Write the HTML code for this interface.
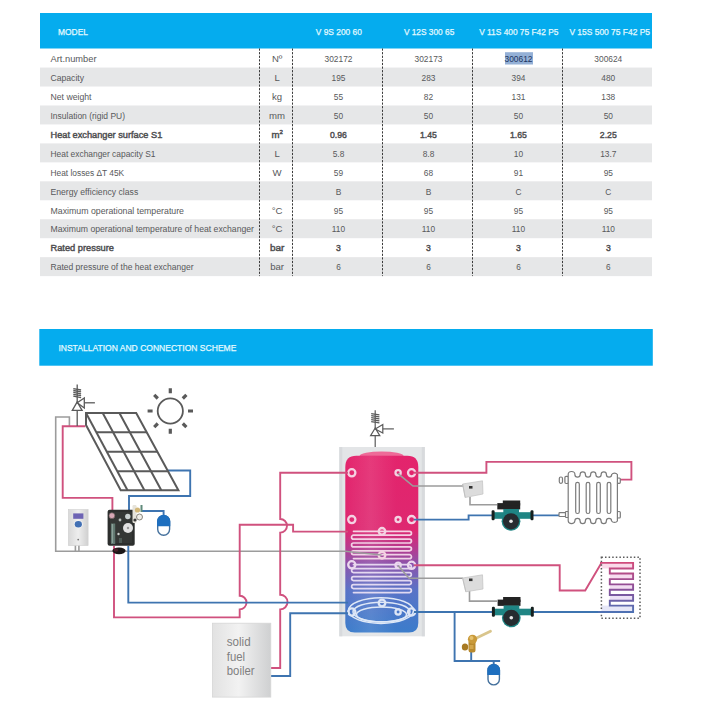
<!DOCTYPE html>
<html><head><meta charset="utf-8"><style>
html,body{margin:0;padding:0;background:#fff;width:707px;height:708px;overflow:hidden}
svg{position:absolute;left:0;top:0;font-family:"Liberation Sans",sans-serif}
</style></head><body>
<svg width="707" height="708" viewBox="0 0 707 708">
<rect x="40" y="13" width="612" height="35.5" fill="#05ACEE"/>
<text x="58" y="35" fill="#E4FAFF" stroke="#E4FAFF" stroke-width="0.25" font-size="9.5" textLength="30" lengthAdjust="spacingAndGlyphs">MODEL</text>
<text x="315.8" y="35" fill="#E4FAFF" stroke="#E4FAFF" stroke-width="0.25" font-size="9.5" textLength="46" lengthAdjust="spacingAndGlyphs">V 9S 200 60</text>
<text x="403.9" y="35" fill="#E4FAFF" stroke="#E4FAFF" stroke-width="0.25" font-size="9.5" textLength="50.4" lengthAdjust="spacingAndGlyphs">V 12S 300 65</text>
<text x="479.2" y="35" fill="#E4FAFF" stroke="#E4FAFF" stroke-width="0.25" font-size="9.5" textLength="79.2" lengthAdjust="spacingAndGlyphs">V 11S 400 75 F42 P5</text>
<text x="569.4" y="35" fill="#E4FAFF" stroke="#E4FAFF" stroke-width="0.25" font-size="9.5" textLength="80.6" lengthAdjust="spacingAndGlyphs">V 15S 500 75 F42 P5</text>
<rect x="40" y="67.56" width="612" height="18.96" fill="#E6E7E8"/>
<rect x="40" y="105.48" width="612" height="18.96" fill="#E6E7E8"/>
<rect x="40" y="143.40" width="612" height="18.96" fill="#E6E7E8"/>
<rect x="40" y="181.32" width="612" height="18.96" fill="#E6E7E8"/>
<rect x="40" y="219.24" width="612" height="18.96" fill="#E6E7E8"/>
<rect x="40" y="257.16" width="612" height="18.96" fill="#E6E7E8"/>
<text x="50.5" y="61.8" fill="#58595b" font-size="9.6" textLength="46" lengthAdjust="spacingAndGlyphs">Art.number</text>
<text x="277.1" y="61.8" fill="#58595b" font-size="9.6" text-anchor="middle" textLength="10.4" lengthAdjust="spacingAndGlyphs">Nº</text>
<text x="338.5" y="61.8" fill="#58595b" font-size="9.6" text-anchor="middle" textLength="27.9" lengthAdjust="spacingAndGlyphs">302172</text>
<text x="428.5" y="61.8" fill="#58595b" font-size="9.6" text-anchor="middle" textLength="27.9" lengthAdjust="spacingAndGlyphs">302173</text>
<rect x="505" y="52.2" width="28" height="12.3" fill="#94B0D6"/>
<text x="518.5" y="61.8" fill="#1d3560" font-size="9.6" text-anchor="middle" textLength="27.9" lengthAdjust="spacingAndGlyphs">300612</text>
<text x="608.3" y="61.8" fill="#58595b" font-size="9.6" text-anchor="middle" textLength="27.9" lengthAdjust="spacingAndGlyphs">300624</text>
<text x="50.5" y="80.8" fill="#58595b" font-size="9.6" textLength="33.5" lengthAdjust="spacingAndGlyphs">Capacity</text>
<text x="277.1" y="80.8" fill="#58595b" font-size="9.6" text-anchor="middle" textLength="5.3" lengthAdjust="spacingAndGlyphs">L</text>
<text x="338.5" y="80.8" fill="#58595b" font-size="9.6" text-anchor="middle" textLength="13.9" lengthAdjust="spacingAndGlyphs">195</text>
<text x="428.5" y="80.8" fill="#58595b" font-size="9.6" text-anchor="middle" textLength="13.9" lengthAdjust="spacingAndGlyphs">283</text>
<text x="518.5" y="80.8" fill="#58595b" font-size="9.6" text-anchor="middle" textLength="13.9" lengthAdjust="spacingAndGlyphs">394</text>
<text x="608.3" y="80.8" fill="#58595b" font-size="9.6" text-anchor="middle" textLength="13.9" lengthAdjust="spacingAndGlyphs">480</text>
<text x="50.5" y="99.7" fill="#58595b" font-size="9.6" textLength="41" lengthAdjust="spacingAndGlyphs">Net weight</text>
<text x="277.1" y="99.7" fill="#58595b" font-size="9.6" text-anchor="middle" textLength="10.1" lengthAdjust="spacingAndGlyphs">kg</text>
<text x="338.5" y="99.7" fill="#58595b" font-size="9.6" text-anchor="middle" textLength="9.3" lengthAdjust="spacingAndGlyphs">55</text>
<text x="428.5" y="99.7" fill="#58595b" font-size="9.6" text-anchor="middle" textLength="9.3" lengthAdjust="spacingAndGlyphs">82</text>
<text x="518.5" y="99.7" fill="#58595b" font-size="9.6" text-anchor="middle" textLength="13.9" lengthAdjust="spacingAndGlyphs">131</text>
<text x="608.3" y="99.7" fill="#58595b" font-size="9.6" text-anchor="middle" textLength="13.9" lengthAdjust="spacingAndGlyphs">138</text>
<text x="50.5" y="118.7" fill="#58595b" font-size="9.6" textLength="74.5" lengthAdjust="spacingAndGlyphs">Insulation (rigid PU)</text>
<text x="277.1" y="118.7" fill="#58595b" font-size="9.6" text-anchor="middle" textLength="16.0" lengthAdjust="spacingAndGlyphs">mm</text>
<text x="338.5" y="118.7" fill="#58595b" font-size="9.6" text-anchor="middle" textLength="9.3" lengthAdjust="spacingAndGlyphs">50</text>
<text x="428.5" y="118.7" fill="#58595b" font-size="9.6" text-anchor="middle" textLength="9.3" lengthAdjust="spacingAndGlyphs">50</text>
<text x="518.5" y="118.7" fill="#58595b" font-size="9.6" text-anchor="middle" textLength="9.3" lengthAdjust="spacingAndGlyphs">50</text>
<text x="608.3" y="118.7" fill="#58595b" font-size="9.6" text-anchor="middle" textLength="9.3" lengthAdjust="spacingAndGlyphs">50</text>
<text x="50.5" y="137.6" fill="#4c4c4e" font-size="9.6" stroke="#505052" stroke-width="0.45" textLength="111.8" lengthAdjust="spacingAndGlyphs">Heat exchanger surface S1</text>
<text x="277.1" y="137.6" fill="#4c4c4e" font-size="9.6" stroke="#505052" stroke-width="0.45" text-anchor="middle">m<tspan font-size="6" dy="-3.5">2</tspan></text>
<text x="338.5" y="137.6" fill="#4c4c4e" font-size="9.6" stroke="#505052" stroke-width="0.45" text-anchor="middle" textLength="16.9" lengthAdjust="spacingAndGlyphs">0.96</text>
<text x="428.5" y="137.6" fill="#4c4c4e" font-size="9.6" stroke="#505052" stroke-width="0.45" text-anchor="middle" textLength="16.9" lengthAdjust="spacingAndGlyphs">1.45</text>
<text x="518.5" y="137.6" fill="#4c4c4e" font-size="9.6" stroke="#505052" stroke-width="0.45" text-anchor="middle" textLength="16.9" lengthAdjust="spacingAndGlyphs">1.65</text>
<text x="608.3" y="137.6" fill="#4c4c4e" font-size="9.6" stroke="#505052" stroke-width="0.45" text-anchor="middle" textLength="16.9" lengthAdjust="spacingAndGlyphs">2.25</text>
<text x="50.5" y="156.6" fill="#58595b" font-size="9.6" textLength="105" lengthAdjust="spacingAndGlyphs">Heat exchanger capacity S1</text>
<text x="277.1" y="156.6" fill="#58595b" font-size="9.6" text-anchor="middle" textLength="5.3" lengthAdjust="spacingAndGlyphs">L</text>
<text x="338.5" y="156.6" fill="#58595b" font-size="9.6" text-anchor="middle" textLength="11.6" lengthAdjust="spacingAndGlyphs">5.8</text>
<text x="428.5" y="156.6" fill="#58595b" font-size="9.6" text-anchor="middle" textLength="11.6" lengthAdjust="spacingAndGlyphs">8.8</text>
<text x="518.5" y="156.6" fill="#58595b" font-size="9.6" text-anchor="middle" textLength="9.3" lengthAdjust="spacingAndGlyphs">10</text>
<text x="608.3" y="156.6" fill="#58595b" font-size="9.6" text-anchor="middle" textLength="16.3" lengthAdjust="spacingAndGlyphs">13.7</text>
<text x="50.5" y="175.6" fill="#58595b" font-size="9.6" textLength="73.7" lengthAdjust="spacingAndGlyphs">Heat losses ΔT 45K</text>
<text x="277.1" y="175.6" fill="#58595b" font-size="9.6" text-anchor="middle" textLength="9.1" lengthAdjust="spacingAndGlyphs">W</text>
<text x="338.5" y="175.6" fill="#58595b" font-size="9.6" text-anchor="middle" textLength="9.3" lengthAdjust="spacingAndGlyphs">59</text>
<text x="428.5" y="175.6" fill="#58595b" font-size="9.6" text-anchor="middle" textLength="9.3" lengthAdjust="spacingAndGlyphs">68</text>
<text x="518.5" y="175.6" fill="#58595b" font-size="9.6" text-anchor="middle" textLength="9.3" lengthAdjust="spacingAndGlyphs">91</text>
<text x="608.3" y="175.6" fill="#58595b" font-size="9.6" text-anchor="middle" textLength="9.3" lengthAdjust="spacingAndGlyphs">95</text>
<text x="50.5" y="194.5" fill="#58595b" font-size="9.6" textLength="87.7" lengthAdjust="spacingAndGlyphs">Energy efficiency class</text>
<text x="338.5" y="194.5" fill="#58595b" font-size="9.6" text-anchor="middle" textLength="5.6" lengthAdjust="spacingAndGlyphs">B</text>
<text x="428.5" y="194.5" fill="#58595b" font-size="9.6" text-anchor="middle" textLength="5.6" lengthAdjust="spacingAndGlyphs">B</text>
<text x="518.5" y="194.5" fill="#58595b" font-size="9.6" text-anchor="middle" textLength="6.0" lengthAdjust="spacingAndGlyphs">C</text>
<text x="608.3" y="194.5" fill="#58595b" font-size="9.6" text-anchor="middle" textLength="6.0" lengthAdjust="spacingAndGlyphs">C</text>
<text x="50.5" y="213.5" fill="#58595b" font-size="9.6" textLength="133.5" lengthAdjust="spacingAndGlyphs">Maximum operational temperature</text>
<text x="277.1" y="213.5" fill="#58595b" font-size="9.6" text-anchor="middle" textLength="10.8" lengthAdjust="spacingAndGlyphs">°C</text>
<text x="338.5" y="213.5" fill="#58595b" font-size="9.6" text-anchor="middle" textLength="9.3" lengthAdjust="spacingAndGlyphs">95</text>
<text x="428.5" y="213.5" fill="#58595b" font-size="9.6" text-anchor="middle" textLength="9.3" lengthAdjust="spacingAndGlyphs">95</text>
<text x="518.5" y="213.5" fill="#58595b" font-size="9.6" text-anchor="middle" textLength="9.3" lengthAdjust="spacingAndGlyphs">95</text>
<text x="608.3" y="213.5" fill="#58595b" font-size="9.6" text-anchor="middle" textLength="9.3" lengthAdjust="spacingAndGlyphs">95</text>
<text x="50.5" y="232.4" fill="#58595b" font-size="9.6" textLength="203.5" lengthAdjust="spacingAndGlyphs">Maximum operational temperature of heat exchanger</text>
<text x="277.1" y="232.4" fill="#58595b" font-size="9.6" text-anchor="middle" textLength="10.8" lengthAdjust="spacingAndGlyphs">°C</text>
<text x="338.5" y="232.4" fill="#58595b" font-size="9.6" text-anchor="middle" textLength="13.3" lengthAdjust="spacingAndGlyphs">110</text>
<text x="428.5" y="232.4" fill="#58595b" font-size="9.6" text-anchor="middle" textLength="13.3" lengthAdjust="spacingAndGlyphs">110</text>
<text x="518.5" y="232.4" fill="#58595b" font-size="9.6" text-anchor="middle" textLength="13.3" lengthAdjust="spacingAndGlyphs">110</text>
<text x="608.3" y="232.4" fill="#58595b" font-size="9.6" text-anchor="middle" textLength="13.3" lengthAdjust="spacingAndGlyphs">110</text>
<text x="50.5" y="251.4" fill="#4c4c4e" font-size="9.6" stroke="#505052" stroke-width="0.45" textLength="63.5" lengthAdjust="spacingAndGlyphs">Rated pressure</text>
<text x="277.1" y="251.4" fill="#4c4c4e" font-size="9.6" stroke="#505052" stroke-width="0.45" text-anchor="middle" textLength="14.4" lengthAdjust="spacingAndGlyphs">bar</text>
<text x="338.5" y="251.4" fill="#4c4c4e" font-size="9.6" stroke="#505052" stroke-width="0.45" text-anchor="middle" textLength="4.8" lengthAdjust="spacingAndGlyphs">3</text>
<text x="428.5" y="251.4" fill="#4c4c4e" font-size="9.6" stroke="#505052" stroke-width="0.45" text-anchor="middle" textLength="4.8" lengthAdjust="spacingAndGlyphs">3</text>
<text x="518.5" y="251.4" fill="#4c4c4e" font-size="9.6" stroke="#505052" stroke-width="0.45" text-anchor="middle" textLength="4.8" lengthAdjust="spacingAndGlyphs">3</text>
<text x="608.3" y="251.4" fill="#4c4c4e" font-size="9.6" stroke="#505052" stroke-width="0.45" text-anchor="middle" textLength="4.8" lengthAdjust="spacingAndGlyphs">3</text>
<text x="50.5" y="270.4" fill="#58595b" font-size="9.6" textLength="143" lengthAdjust="spacingAndGlyphs">Rated pressure of the heat exchanger</text>
<text x="277.1" y="270.4" fill="#58595b" font-size="9.6" text-anchor="middle" textLength="13.9" lengthAdjust="spacingAndGlyphs">bar</text>
<text x="338.5" y="270.4" fill="#58595b" font-size="9.6" text-anchor="middle" textLength="4.6" lengthAdjust="spacingAndGlyphs">6</text>
<text x="428.5" y="270.4" fill="#58595b" font-size="9.6" text-anchor="middle" textLength="4.6" lengthAdjust="spacingAndGlyphs">6</text>
<text x="518.5" y="270.4" fill="#58595b" font-size="9.6" text-anchor="middle" textLength="4.6" lengthAdjust="spacingAndGlyphs">6</text>
<text x="608.3" y="270.4" fill="#58595b" font-size="9.6" text-anchor="middle" textLength="4.6" lengthAdjust="spacingAndGlyphs">6</text>
<line x1="259.5" y1="48.5" x2="259.5" y2="276.1" stroke="#3a3a3a" stroke-width="1" stroke-dasharray="2.2 1.4"/>
<line x1="292.5" y1="48.5" x2="292.5" y2="276.1" stroke="#3a3a3a" stroke-width="1" stroke-dasharray="2.2 1.4"/>
<line x1="382.5" y1="48.5" x2="382.5" y2="276.1" stroke="#3a3a3a" stroke-width="1" stroke-dasharray="2.2 1.4"/>
<line x1="472.5" y1="48.5" x2="472.5" y2="276.1" stroke="#3a3a3a" stroke-width="1" stroke-dasharray="2.2 1.4"/>
<line x1="562.5" y1="48.5" x2="562.5" y2="276.1" stroke="#3a3a3a" stroke-width="1" stroke-dasharray="2.2 1.4"/>
<rect x="39.3" y="329" width="613.5" height="36.7" fill="#05ACEE"/>
<text x="58.4" y="350.6" fill="#E4FAFF" stroke="#E4FAFF" stroke-width="0.25" font-size="9.8" textLength="178" lengthAdjust="spacingAndGlyphs">INSTALLATION AND CONNECTION SCHEME</text>

<!-- tank -->
<rect x="339.3" y="447" width="85.5" height="189.3" fill="#E3E5E7"/>
<rect x="339.3" y="447" width="3" height="189.3" fill="#D8DADD"/>
<rect x="421.8" y="447" width="3" height="189.3" fill="#D8DADD"/>
<ellipse cx="381.6" cy="456" rx="22" ry="4.5" fill="#EE6A98"/>
<path d="M345.3 467 Q345.3 455.8 356.3 455.8 H407.3 Q418.3 455.8 418.3 467 V623 Q418.3 632.6 408.8 632.6 H354.8 Q345.3 632.6 345.3 623 Z" fill="url(#tg)"/>
<rect x="345.3" y="456" width="73" height="179" fill="url(#sheen)"/>
<g fill="none" stroke-linecap="round">
  <path d="M353.5 531.3 H409.5 A1.95 1.95 0 0 1 409.5 535.20 H353.5 A1.95 1.95 0 0 0 353.5 539.10 H409.5 A1.95 1.95 0 0 1 409.5 543.00 H353.5 A1.95 1.95 0 0 0 353.5 546.90 H409.5 A1.95 1.95 0 0 1 409.5 550.80 H353.5 A1.95 1.95 0 0 0 353.5 554.70 H409.5 A1.95 1.95 0 0 1 409.5 558.60 H353.5" stroke="#F8E2EE" stroke-width="1.7" opacity="0.9"/>
  <path d="M353.5 564.6 H409.5 A2.00 2.00 0 0 1 409.5 568.59 H353.5 A2.00 2.00 0 0 0 353.5 572.58 H409.5 A2.00 2.00 0 0 1 409.5 576.57 H353.5 A2.00 2.00 0 0 0 353.5 580.56 H409.5 A2.00 2.00 0 0 1 409.5 584.55 H353.5 A2.00 2.00 0 0 0 353.5 588.54 H409.5 A2.00 2.00 0 0 1 409.5 592.53 H353.5" stroke="#EEE4F6" stroke-width="1.7" opacity="0.9"/>
  <g stroke="#E6EEFA" stroke-width="1.5" opacity="0.95">
    <ellipse cx="381" cy="610.6" rx="32.5" ry="12.8"/>
    <ellipse cx="381.5" cy="612" rx="28.5" ry="9.8"/>
    <ellipse cx="381.5" cy="614.5" rx="25" ry="7.5"/>
  </g>
</g>
<g fill="none" stroke="#F4D2E2" stroke-width="2.3">
  <circle cx="351.8" cy="472.8" r="3.6"/><circle cx="398.1" cy="472.8" r="2.6"/><circle cx="411.6" cy="472.8" r="3.6"/>
  <circle cx="351.8" cy="519.6" r="3.6"/><circle cx="398.1" cy="519.6" r="2.6"/><circle cx="411.6" cy="519.6" r="3.6"/>
  <circle cx="382" cy="531.3" r="3.3"/><circle cx="382" cy="555.2" r="3.3"/>
</g>
<g fill="none" stroke="#EBD8EE" stroke-width="2.3">
  <circle cx="351.8" cy="564.8" r="3.6"/><circle cx="398.1" cy="565.3" r="2.6"/><circle cx="411.6" cy="565.3" r="3.6"/>
</g>
<g fill="none" stroke="#DDE6F6" stroke-width="2.3">
  <circle cx="382" cy="603" r="3.3"/>
  <circle cx="351.8" cy="612" r="3.6"/><circle cx="398.1" cy="612" r="2.6"/><circle cx="411.6" cy="612" r="3.6"/>
</g>

<!-- gray sensor lines -->
<g fill="none" stroke="#9c9c9c" stroke-width="1.6">
  <path d="M69.4 426 V417 H55.7 V551.2 H345 L381.5 555"/>
  <path d="M75.4 545 V551.2 M78.9 545 V551.2"/>
  <path d="M397.8 473.3 L413 486 H463"/>
  <path d="M470 497 V504.7 H497"/>
  <path d="M398 565.4 L409 578.2 H463"/>
  <path d="M469.5 591 V601.1 H497"/>
</g>

<!-- red pipes -->
<g fill="none" stroke="#D0517E" stroke-width="1.9">
  <path d="M85.4 426.3 H62.7 V497.9 H112.4 V512"/>
  <path d="M114 546 V617.4 H239.7 V609.4 A6.8 6.8 0 0 0 239.7 595.8 V524.7 H293.1 V531.6 H348"/>
  <path d="M348 472.8 H280.2 V519 A6.8 6.8 0 0 1 280.2 532.6 V594.8 A6.8 6.8 0 0 1 280.2 609.4 V668 H271"/>
  <path d="M414 472.8 H486.4 V461.9 H631.4 V479.6 H620"/>
  <path d="M414 565.3 H559.7 V590.5 H585.2 L601.4 562.9"/>
</g>

<!-- blue pipes -->
<g fill="none" stroke="#3E74B0" stroke-width="1.9">
  <path d="M167 470.5 H190.2 V496 H129 V512"/>
  <path d="M142 511 H163.6 V516"/>
  <path d="M128.3 546 V602.6 H348"/>
  <path d="M271 676 H290.2 V613.3 H348"/>
  <path d="M414 519.6 H468.6 V515.4 H560"/>
  <path d="M414 612 H600"/>
  <path d="M454.6 612 V661 H500.1 M471.2 652 V661 M493.7 661.1 V665"/>
</g>

<!-- underfloor dotted box -->
<g opacity="0.8">
<rect x="601.4" y="562.9" width="31.7" height="5.6" fill="#FAD3E6"/>
<rect x="609.8" y="573.5" width="23.3" height="5.6" fill="#F6D4EC"/>
<rect x="609.8" y="584.4" width="23.3" height="5.3" fill="#F0D6F0"/>
<rect x="609.8" y="595" width="23.3" height="5.8" fill="#E8DAF4"/>
<rect x="601.4" y="605.6" width="31.7" height="6.4" fill="#E0E2F6"/>
</g>
<rect x="601.4" y="557.2" width="38.6" height="61.1" fill="none" stroke="#5a5a5a" stroke-width="1.5" stroke-dasharray="1.5 2.1"/>
<path d="M600 562.9 H633.1 V568.5 H609.8 V573.5 H633.1 V579.1 H609.8 V584.4 H633.1 V589.7 H609.8 V595 H633.1 V600.8 H609.8 V605.6 H633.1 V612 H598" fill="none" stroke="url(#ufh)" stroke-width="1.9"/>

<!-- solar panel -->
<g fill="none" stroke="#5a5a5a" stroke-width="2" stroke-linejoin="miter">
  <path d="M86 413 H136.2 L178.4 490.3 H120.7 L86 425 Z"/>
  <path d="M86 413 L127.5 490.3"/>
  <path d="M102.7 413 L144.4 490.3 M119.4 413 L161.3 490.3"/>
  <path d="M96.5 432.3 H146.8 M107 451.8 H157.3 M117.5 471.2 H167.8"/>
</g>
<!-- sun -->
<g stroke="#5a5a5a" fill="none">
  <circle cx="170.3" cy="411" r="12.6" stroke-width="1.8"/>
  <g stroke-width="3.2">
    <path d="M170.3 388.3 V393.3 M170.3 428.7 V433.7 M147.6 411 H152.6 M188 411 H193"/>
    <path d="M154.2 394.9 L157.8 398.5 M182.8 423.5 L186.4 427.1 M186.4 394.9 L182.8 398.5 M157.8 423.5 L154.2 427.1"/>
  </g>
</g>

<!-- safety valves -->
<g id="sv" fill="none" stroke="#5a5a5a" stroke-width="1.3">
  <path d="M77.2 384.5 V401.9 M77.2 410.4 V426"/>
  <path d="M73.3 388.6 L81.1 390 M73.3 390.5 L81.1 391.9 M73.3 392.4 L81.1 393.8 M73.3 394.3 L81.1 395.7 M73.3 396.2 L81.1 397.6"/>
  <path d="M77.2 401.9 L72.3 410.4 H82.1 Z"/>
  <path d="M77.2 402.8 L84.3 398 V408 Z"/>
  <path d="M84.3 402.8 H94.9"/>
</g>
<g fill="none" stroke="#5a5a5a" stroke-width="1.2">
  <path d="M375.2 410.2 V428 M375.2 435.7 V447"/>
  <path d="M371.2 413.6 L379.4 414.9 M371.2 415.6 L379.4 416.9 M371.2 417.6 L379.4 418.9 M371.2 419.6 L379.4 420.9 M371.2 421.6 L379.4 422.9"/>
  <path d="M375.2 428 L370.6 435.7 H379.8 Z"/>
  <path d="M375.2 429 L382.8 424.6 V433.1 Z"/>
  <path d="M382.8 428.9 H393.9"/>
</g>

<!-- tank -->
<defs>
  <linearGradient id="sheen" x1="0" y1="0" x2="1" y2="0">
    <stop offset="0" stop-color="#fff" stop-opacity="0"/>
    <stop offset="0.35" stop-color="#fff" stop-opacity="0.1"/>
    <stop offset="0.7" stop-color="#fff" stop-opacity="0"/>
  </linearGradient>
  <linearGradient id="tg" gradientUnits="userSpaceOnUse" x1="0" y1="451" x2="0" y2="635">
    <stop offset="0" stop-color="#E4246C"/>
    <stop offset="0.43" stop-color="#DE2770"/>
    <stop offset="0.53" stop-color="#B53A8F"/>
    <stop offset="0.62" stop-color="#8A55AD"/>
    <stop offset="0.76" stop-color="#5873C7"/>
    <stop offset="1" stop-color="#3A7DCB"/>
  </linearGradient>
  <linearGradient id="ufh" gradientUnits="userSpaceOnUse" x1="0" y1="562" x2="0" y2="613">
    <stop offset="0" stop-color="#D24B7B"/>
    <stop offset="0.5" stop-color="#8C4E98"/>
    <stop offset="1" stop-color="#4C72B4"/>
  </linearGradient>
  <linearGradient id="boil" x1="0" y1="0" x2="1" y2="0">
    <stop offset="0" stop-color="#e2e2e2"/>
    <stop offset="0.45" stop-color="#f2f2f2"/>
    <stop offset="1" stop-color="#cfd0d1"/>
  </linearGradient>
  <linearGradient id="ctl" x1="0" y1="0" x2="1" y2="0">
    <stop offset="0" stop-color="#d8d8d8"/>
    <stop offset="0.5" stop-color="#eeeeee"/>
    <stop offset="1" stop-color="#d0d0d0"/>
  </linearGradient>
</defs>
<!-- boiler -->
<rect x="212.4" y="623.2" width="58.4" height="73.9" fill="url(#boil)" stroke="#d6d6d6" stroke-width="0.8"/>
<g fill="#808080" font-size="12.3">
  <text x="226.8" y="645.5" textLength="23.8" lengthAdjust="spacingAndGlyphs">solid</text>
  <text x="226.8" y="661" textLength="18.3" lengthAdjust="spacingAndGlyphs">fuel</text>
  <text x="226.8" y="675.3" textLength="27.7" lengthAdjust="spacingAndGlyphs">boiler</text>
</g>

<!-- radiator -->
<g fill="#fff" stroke="#7b7b7b" stroke-width="1.2">
  <rect x="559.3" y="477" width="3.2" height="6.3" rx="1.5"/>
  <rect x="564.9" y="476.3" width="3.6" height="7.2" rx="1.2"/>
  <rect x="617.4" y="478" width="2.9" height="5.3" rx="1"/>
  <rect x="559" y="512.7" width="7" height="3.8" rx="0.8"/>
  <rect x="565.5" y="511.5" width="3" height="6" rx="0.8"/>
  <rect x="617.4" y="511.5" width="2.9" height="6.5" rx="1"/>
  <path d="M568.2 518.5 V474.5 A3.35 3 0 0 1 574.9 474.5 A2.625 2.625 0 0 0 580.15 474.5 A2.625 2.625 0 0 1 585.40 474.5 A2.625 2.625 0 0 0 590.65 474.5 A2.625 2.625 0 0 1 595.90 474.5 A2.625 2.625 0 0 0 601.15 474.5 A2.625 2.625 0 0 1 606.40 474.5 A2.625 2.625 0 0 0 611.65 474.5 A3.4 3 0 0 1 617.4 474.5 V521 A3.4 3 0 0 1 611.60 521 A2.625 2.625 0 0 0 606.35 521 A2.625 2.625 0 0 1 601.10 521 A2.625 2.625 0 0 0 595.85 521 A2.625 2.625 0 0 1 590.60 521 A2.625 2.625 0 0 0 585.35 521 A2.625 2.625 0 0 1 580.10 521 A2.625 2.625 0 0 0 574.85 521 A3.35 3 0 0 1 568.2 521 Z"/>
  <rect x="575.7" y="482.3" width="3.6" height="31.2" rx="1.8"/>
  <rect x="586.2" y="482.3" width="3.6" height="31.2" rx="1.8"/>
  <rect x="596.7" y="482.3" width="3.6" height="31.2" rx="1.8"/>
  <rect x="607.2" y="482.3" width="3.6" height="31.2" rx="1.8"/>
</g>

<!-- controllers -->
<rect x="68.3" y="509.5" width="19.8" height="36.1" fill="url(#ctl)" stroke="#d0d0d0" stroke-width="0.6"/>
<rect x="73.2" y="513.4" width="10.2" height="5.4" fill="#6E64B4"/>
<ellipse cx="78.3" cy="524.2" rx="4.4" ry="4" fill="#f4f4f6"/>
<ellipse cx="78.3" cy="524.2" rx="3.6" ry="3.3" fill="#4270B4"/>
<circle cx="78.2" cy="539.6" r="0.9" fill="#777"/>

<path d="M462.6 484 L482.5 480.8 L483 494 L465.2 497.5 Z" fill="#dcdcdc" stroke="#c2c2c2" stroke-width="0.7"/><path d="M462.6 484 L465.2 497.5" stroke="#bdbdbd" stroke-width="0.8"/>
<rect x="469" y="486" width="3.5" height="2.6" fill="#333"/>
<path d="M462.6 578 L482.5 574.8 L483 589 L465.8 591.8 Z" fill="#dcdcdc" stroke="#c2c2c2" stroke-width="0.7"/><path d="M462.6 578 L465.8 591.8" stroke="#bdbdbd" stroke-width="0.8"/>
<rect x="469" y="578.5" width="3.5" height="2.6" fill="#333"/>

<!-- pump station -->
<rect x="107.6" y="509.7" width="27.1" height="36.1" rx="2" fill="#2c2e2d"/>
<rect x="110" y="512" width="22" height="31" fill="#3a3d3b" opacity="0.6"/>
<circle cx="111.9" cy="515.7" r="2.9" fill="#d7a8b6" stroke="#6a5a5a" stroke-width="0.6"/>
<circle cx="127.8" cy="516.5" r="2.7" fill="#c9d0d0"/>
<circle cx="128" cy="528" r="5" fill="#e2e2e2"/>
<circle cx="128" cy="528" r="1.2" fill="#999"/>
<rect x="111" y="523.5" width="4.2" height="20.5" fill="#60776f"/>
<rect x="111.8" y="524" width="1.3" height="19" fill="#9fb3ab" opacity="0.7"/>
<circle cx="120" cy="520" r="1.4" fill="#b9c0bd"/>
<circle cx="118.5" cy="534" r="1.2" fill="#cfd3d0"/>
<rect x="119" y="538" width="3" height="5" fill="#4e5a55"/>
<ellipse cx="119" cy="550.8" rx="6.6" ry="3.4" fill="#1c1818"/>
<ellipse cx="116" cy="550" rx="2.4" ry="1.8" fill="#5a2430" opacity="0.7"/>
<g>
  <rect x="132.5" y="505" width="4" height="18" rx="1.2" fill="#e6e3da"/>
  <circle cx="137.5" cy="510" r="2.6" fill="#d2b778"/>
  <circle cx="139.5" cy="517" r="3" fill="#f0eee8" stroke="#6d6a60" stroke-width="0.8"/>
  <rect x="140.5" y="505" width="2" height="7" fill="#5f8a7a"/>
  <circle cx="135" cy="520" r="1.6" fill="#3a3a3a"/>
</g>

<!-- expansion vessels -->
<g id="ev">
  <rect x="157.7" y="515.6" width="11.9" height="19.6" rx="5.9" fill="#fff" stroke="#44709C" stroke-width="1.4"/>
  <path d="M157 526.3 V521.5 A6.6 6.6 0 0 1 170.3 521.5 V526.3 Z" fill="#1E6FBF"/>
</g>
<rect x="488" y="664.4" width="11.4" height="20.5" rx="5.7" fill="#fff" stroke="#44709C" stroke-width="1.4"/>
<path d="M487.3 675 V670.4 A6.4 6.4 0 0 1 500.1 670.4 V675 Z" fill="#1E6FBF"/>

<!-- brass valve -->
<g>
  <path d="M475.5 638.5 L490.5 631.3" stroke="#D9C58C" stroke-width="2.8" stroke-linecap="round"/>
  <rect x="468.5" y="640" width="7" height="12.5" rx="2.5" fill="#B88A2E"/>
  <ellipse cx="465" cy="647" rx="3.2" ry="3.6" fill="#A87A22"/>
  <circle cx="472.5" cy="639.3" r="4.6" fill="#C99A3A"/>
  <circle cx="471.5" cy="638" r="2" fill="#E5C270"/>
  <rect x="469.5" y="645" width="4" height="4" fill="#DDB25A" opacity="0.7"/>
</g>
<!-- pumps -->
<g id="pump1">
  <rect x="497.3" y="503.1" width="22.9" height="6.3" fill="#232323"/>
  <rect x="502.8" y="500.5" width="17.4" height="5" fill="#232323"/>
  <rect x="503.3" y="509" width="15.7" height="4" fill="#1f8584"/>
  <rect x="493" y="512.2" width="39" height="6.6" fill="#1F8584"/>
  <rect x="491.6" y="510.3" width="3" height="10" rx="1.2" fill="#16201f"/>
  <rect x="530.5" y="510.3" width="3" height="10" rx="1.2" fill="#16201f"/>
  <circle cx="511" cy="521.3" r="9.4" fill="#1F8584"/>
  <circle cx="511" cy="521.3" r="8.1" fill="#262c30"/>
  <circle cx="511" cy="521.3" r="1.8" fill="#e8e8e8"/>
</g>
<g transform="translate(0.3 96.5)">
  <rect x="497.3" y="503.1" width="22.9" height="6.3" fill="#232323"/>
  <rect x="502.8" y="500.5" width="17.4" height="5" fill="#232323"/>
  <rect x="503.3" y="509" width="15.7" height="4" fill="#1f8584"/>
  <rect x="493" y="512.2" width="39" height="6.6" fill="#1F8584"/>
  <rect x="491.6" y="510.3" width="3" height="10" rx="1.2" fill="#16201f"/>
  <rect x="530.5" y="510.3" width="3" height="10" rx="1.2" fill="#16201f"/>
  <circle cx="511" cy="521.3" r="9.4" fill="#1F8584"/>
  <circle cx="511" cy="521.3" r="8.1" fill="#262c30"/>
  <circle cx="511" cy="521.3" r="1.8" fill="#e8e8e8"/>
</g>

</svg>
</body></html>
